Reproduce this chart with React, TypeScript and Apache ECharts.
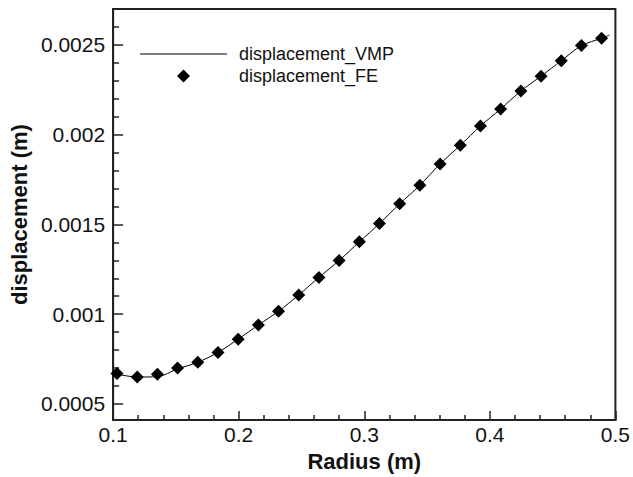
import React, { useEffect, useRef } from "react";
import * as echarts from "echarts";

// Finite-element results (markers)
const radiusFE = [
  0.1031, 0.1192, 0.1353, 0.1513, 0.1674, 0.1835, 0.1996, 0.2157, 0.2317,
  0.2478, 0.2639, 0.28, 0.2961, 0.3121, 0.3282, 0.3443, 0.3604, 0.3765,
  0.3925, 0.4086, 0.4247, 0.4408, 0.4569, 0.4729, 0.489,
];
const displacementFE = [
  0.00067, 0.00065, 0.000665, 0.0007, 0.000732, 0.000787, 0.000861, 0.00094,
  0.001016, 0.001107, 0.001205, 0.001299, 0.001403, 0.001505, 0.001615,
  0.001718, 0.001837, 0.001941, 0.002048, 0.002143, 0.002243, 0.002326,
  0.002412, 0.002496, 0.002537,
];

// VMP solution (solid line)
const radiusVMP = [
  0.1, 0.1031, 0.1192, 0.1353, 0.1513, 0.1674, 0.1835, 0.1996, 0.2157, 0.2317,
  0.2478, 0.2639, 0.28, 0.2961, 0.3121, 0.3282, 0.3443, 0.3604, 0.3765,
  0.3925, 0.4086, 0.4247, 0.4408, 0.4569, 0.4729, 0.489, 0.4953,
];
const displacementVMP = [
  0.000668, 0.000665, 0.00065, 0.000652, 0.000695, 0.000732, 0.000787,
  0.000861, 0.00094, 0.001016, 0.001107, 0.001205, 0.001299, 0.001403,
  0.001505, 0.001615, 0.001718, 0.001837, 0.001941, 0.002048, 0.002143,
  0.002243, 0.002326, 0.002412, 0.002496, 0.002537, 0.002555,
];

const yMajorTicks = [0.0005, 0.001, 0.0015, 0.002, 0.0025];
const yMinorTicks = [
  0.0006, 0.0007, 0.0008, 0.0009, 0.0011, 0.0012, 0.0013, 0.0014, 0.0016,
  0.0017, 0.0018, 0.0019, 0.0021, 0.0022, 0.0023, 0.0024, 0.0026,
];
const xMin = 0.1;
const xMax = 0.5;
const xStep = 0.1;
const yMin = 0.00041;
const yMax = 0.0027;

const FONT = "'Liberation Sans', Arial, sans-serif";
const INK = "#111";

export default function App() {
  const ref = useRef<HTMLDivElement>(null);

  useEffect(() => {
    if (!ref.current) return;
    const chart = echarts.init(ref.current, undefined, { renderer: "svg" });
    const vmp = radiusVMP.map((r, i) => [r, displacementVMP[i]]);
    const fe = radiusFE.map((r, i) => [r, displacementFE[i]]);
    chart.setOption({
      animation: false,
      backgroundColor: "#fff",
      grid: {
        left: 113,
        right: 11,
        top: 9,
        bottom: 52,
        show: true,
        borderColor: "#222",
        borderWidth: 2,
        backgroundColor: "transparent",
      },
      legend: {
        left: 140,
        top: 45,
        orient: "vertical",
        padding: 0,
        itemWidth: 87,
        itemHeight: 13,
        itemGap: 4,
        symbolKeepAspect: true,
        textStyle: {
          fontFamily: FONT,
          fontSize: 18,
          lineHeight: 18,
          color: INK,
          padding: [0, 0, 0, 7],
        },
        data: [
          {
            name: "displacement_VMP",
            icon: "path://M0,0L87,0L87,1L0,1Z",
            itemStyle: { color: "#000" },
          },
          {
            name: "displacement_FE",
            icon: "path://M0,6.5L6.5,0L13,6.5L6.5,13Z",
            itemStyle: { color: "#000", opacity: 1 },
          },
        ],
      },
      xAxis: {
        type: "value",
        min: xMin,
        max: xMax,
        interval: xStep,
        name: "Radius (m)",
        nameLocation: "middle",
        nameGap: 25,
        nameTextStyle: {
          fontFamily: FONT,
          fontSize: 22,
          fontWeight: "bold",
          color: INK,
        },
        axisLine: { show: true, lineStyle: { color: "#222", width: 2 } },
        axisTick: { show: true, inside: true, length: 9, lineStyle: { color: "#222", width: 1.5 } },
        minorTick: { show: true, splitNumber: 5, length: 5, lineStyle: { color: "#222", width: 1.5 } },
        splitLine: { show: false },
        minorSplitLine: { show: false },
        axisLabel: {
          margin: 4,
          fontFamily: FONT,
          fontSize: 21,
          color: INK,
          formatter: (v: number) => String(Math.round(v * 10) / 10),
        },
      },
      yAxis: [
        {
          type: "value",
          min: yMin,
          max: yMax,
          name: "displacement (m)",
          nameLocation: "middle",
          nameGap: 73,
          nameTextStyle: {
            fontFamily: FONT,
            fontSize: 22,
            fontWeight: "bold",
            color: INK,
          },
          axisLine: { show: true, lineStyle: { color: "#222", width: 2 } },
          axisTick: {
            show: true,
            inside: true,
            length: 10,
            customValues: yMajorTicks,
            lineStyle: { color: "#222", width: 1.5 },
          },
          splitLine: { show: false },
          axisLabel: {
            margin: 8,
            fontFamily: FONT,
            fontSize: 21,
            color: INK,
            customValues: yMajorTicks,
            formatter: (v: number) => String(v),
          },
        },
        {
          type: "value",
          min: yMin,
          max: yMax,
          position: "left",
          axisLine: { show: false },
          axisTick: {
            show: true,
            inside: true,
            length: 6,
            customValues: yMinorTicks,
            lineStyle: { color: "#222", width: 1.5 },
          },
          splitLine: { show: false },
          axisLabel: { show: false, customValues: yMinorTicks },
        },
      ],
      series: [
        {
          name: "displacement_VMP",
          type: "line",
          data: vmp,
          symbol: "none",
          smooth: 0.3,
          lineStyle: { color: "#000", width: 1 },
          itemStyle: { color: "#000" },
          z: 2,
        },
        {
          name: "displacement_FE",
          type: "scatter",
          data: fe,
          symbol: "diamond",
          symbolSize: 13,
          itemStyle: { color: "#000", opacity: 1 },
          z: 3,
        },
      ],
    });
    return () => chart.dispose();
  }, []);

  return (
    <div
      ref={ref}
      style={{ position: "fixed", left: 0, top: 0, width: 633, height: 477 }}
    />
  );
}
